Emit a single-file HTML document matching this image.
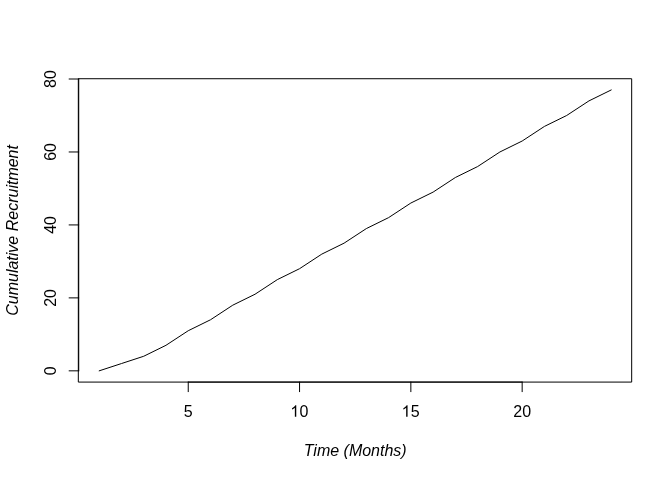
<!DOCTYPE html>
<html>
<head>
<meta charset="utf-8">
<title>Cumulative Recruitment</title>
<style>
html,body{margin:0;padding:0;background:#fff;}
body{width:672px;height:480px;overflow:hidden;}
svg{display:block;will-change:transform;}
text{font-family:"Liberation Sans",sans-serif;font-size:16px;fill:#000;}
.it{font-style:italic;}
.ln{fill:none;stroke:#000;stroke-width:1;stroke-linecap:round;stroke-linejoin:round;}
</style>
</head>
<body>
<svg width="672" height="480" viewBox="0 0 672 480">
<rect x="0" y="0" width="672" height="480" fill="#fff"/>
<polyline class="ln" points="99.20,370.84 121.46,363.55 143.72,356.25 165.98,345.31 188.24,330.72 210.50,319.77 232.77,305.18 255.03,294.24 277.29,279.65 299.55,268.70 321.81,254.11 344.07,243.17 366.33,228.58 388.59,217.63 410.85,203.04 433.11,192.10 455.37,177.51 477.63,166.56 499.90,151.97 522.16,141.03 544.42,126.43 566.68,115.49 588.94,100.90 611.20,89.96"/>
<line class="ln" x1="188.24" y1="382.08" x2="522.16" y2="382.08"/>
<line class="ln" x1="188.24" y1="382.08" x2="188.24" y2="391.68"/>
<line class="ln" x1="299.55" y1="382.08" x2="299.55" y2="391.68"/>
<line class="ln" x1="410.85" y1="382.08" x2="410.85" y2="391.68"/>
<line class="ln" x1="522.16" y1="382.08" x2="522.16" y2="391.68"/>
<text x="188.24" y="416.64" text-anchor="middle">5</text>
<text x="299.55" y="416.64" text-anchor="middle"><tspan fill="#fff">1</tspan>0</text>
<path d="M763 0H583V1147Q518 1085 412.5 1023Q307 961 223 930V1104Q374 1175 487 1276Q600 1377 647 1472H763Z" fill="#000" transform="translate(290.30,416.79) scale(0.0078125,-0.0078125)"/>
<text x="410.85" y="416.64" text-anchor="middle"><tspan fill="#fff">1</tspan>5</text>
<path d="M763 0H583V1147Q518 1085 412.5 1023Q307 961 223 930V1104Q374 1175 487 1276Q600 1377 647 1472H763Z" fill="#000" transform="translate(401.60,416.79) scale(0.0078125,-0.0078125)"/>
<text x="522.16" y="416.64" text-anchor="middle">20</text>
<line class="ln" x1="78.72" y1="370.84" x2="78.72" y2="79.01"/>
<line class="ln" x1="78.72" y1="370.84" x2="69.12" y2="370.84"/>
<line class="ln" x1="78.72" y1="297.89" x2="69.12" y2="297.89"/>
<line class="ln" x1="78.72" y1="224.93" x2="69.12" y2="224.93"/>
<line class="ln" x1="78.72" y1="151.97" x2="69.12" y2="151.97"/>
<line class="ln" x1="78.72" y1="79.01" x2="69.12" y2="79.01"/>
<text transform="translate(55.68,370.84) rotate(-90)" text-anchor="middle">0</text>
<text transform="translate(55.68,297.89) rotate(-90)" text-anchor="middle">20</text>
<text transform="translate(55.68,224.93) rotate(-90)" text-anchor="middle">40</text>
<text transform="translate(55.68,151.97) rotate(-90)" text-anchor="middle">60</text>
<text transform="translate(55.68,79.01) rotate(-90)" text-anchor="middle">80</text>
<rect class="ln" x="78.72" y="78.72" width="552.96" height="303.36"/>
<text class="it" x="355.20" y="456.04" text-anchor="middle">Time (Months)</text>
<text class="it" transform="translate(17.58,230.40) rotate(-90)" text-anchor="middle">Cumulative Recruitment</text>
</svg>
</body>
</html>
